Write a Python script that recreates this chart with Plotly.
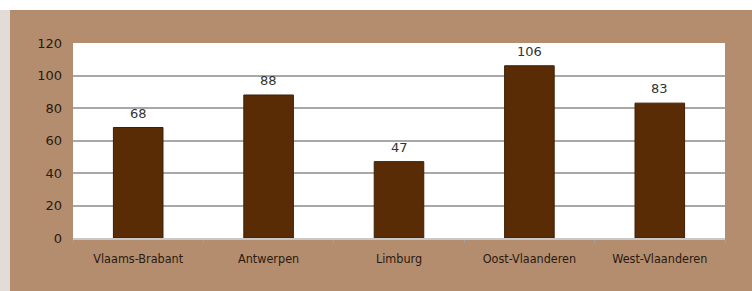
import plotly.graph_objects as go

categories = ["Vlaams-Brabant", "Antwerpen", "Limburg", "Oost-Vlaanderen", "West-Vlaanderen"]
values = [68, 88, 47, 106, 83]
y_ticks = [0, 20, 40, 60, 80, 100, 120]

W, H = 752, 291
L, R, T, B = 73, 27, 43, 53
pw, ph = W - L - R, H - T - B

def px_x(p):
    return (p - L) / pw

def px_y(p):
    return (H - B - p) / ph

fig = go.Figure(go.Bar(
    x=categories, y=values,
    marker=dict(color="#5a2c05", line=dict(color="#3e1e04", width=1)),
    hoverinfo="x+y",
))

for c, v in zip(categories, values):
    fig.add_annotation(x=c, y=v, text=str(v), showarrow=False, yanchor="bottom", yshift=5,
                       font=dict(family="DejaVu Sans, Verdana", size=13, color="#333333"))

shapes = [
    dict(type="rect", xref="paper", yref="paper", layer="below",
         x0=px_x(0), x1=px_x(W), y0=px_y(10), y1=px_y(0),
         fillcolor="#ffffff", line=dict(width=0)),
    dict(type="rect", xref="paper", yref="paper", layer="below",
         x0=px_x(0), x1=px_x(10), y0=px_y(H), y1=px_y(10),
         fillcolor="#e2dcd6", line=dict(width=0)),
]

fig.update_layout(
    width=W, height=H,
    margin=dict(l=L, r=R, t=T, b=B, pad=0),
    paper_bgcolor="#b38d6e", plot_bgcolor="#ffffff",
    bargap=0.62, showlegend=False, shapes=shapes,
    font=dict(family="DejaVu Sans, Verdana", color="#333333"),
)
fig.update_xaxes(
    showgrid=False, showline=True, linecolor="#c8c8c8", linewidth=1.5,
    ticks="outside", tickson="boundaries", ticklen=3, tickcolor="#a0a0a0",
    tickfont=dict(family="DejaVu Sans Condensed, DejaVu Sans", size=12.5, color="#2a1a10"),
    ticklabelstandoff=8,
)
fig.update_yaxes(
    range=[0, 120], tickvals=y_ticks, showgrid=True, gridcolor="#a8a8a8", gridwidth=1.5,
    zeroline=False, showline=False,
    tickfont=dict(family="DejaVu Sans, Verdana", size=13, color="#2a1a10"),
    ticklabelstandoff=10,
)

fig.write_html("out.html", config={"displayModeBar": False},
               post_script="document.body.style.margin='0';document.body.style.overflow='hidden';")
